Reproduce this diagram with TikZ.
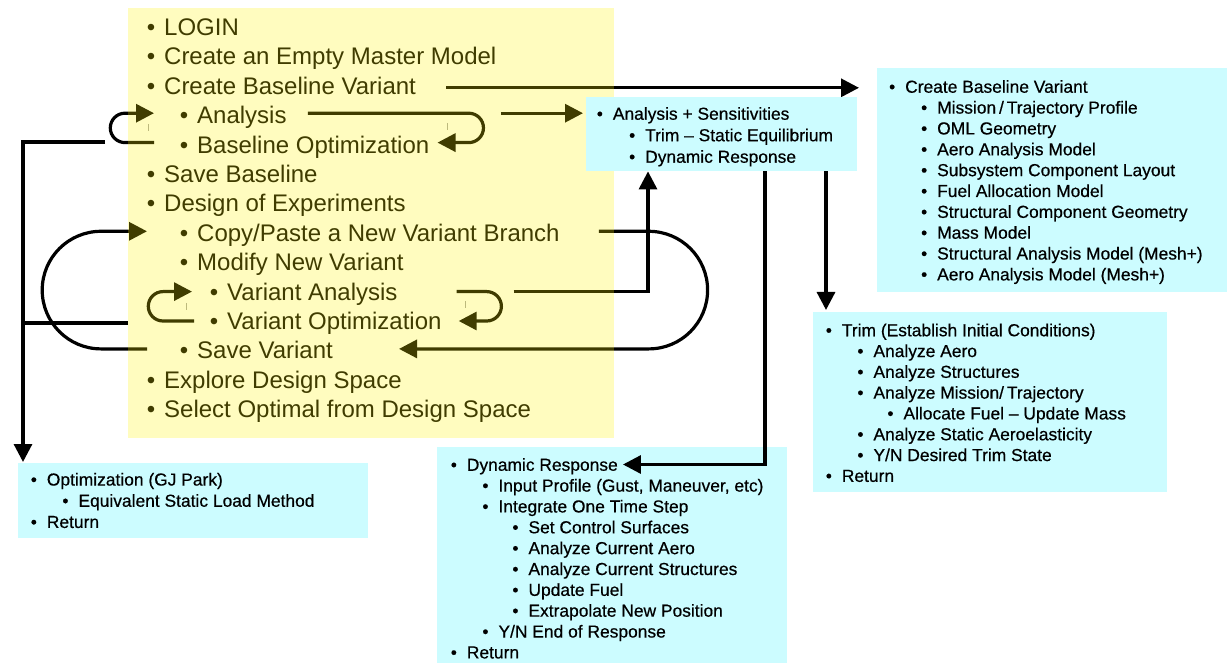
\documentclass[tikz,border=0pt]{standalone}
\usepackage{fontspec}
\setmainfont{Liberation Sans}
\newfontfamily\boxfamily[FakeBold=0.5,Ligatures=TeX]{Liberation Sans}
\usetikzlibrary{arrows.meta,calc}
\pgfdeclarelayer{tint}
\pgfdeclarelayer{front}
\pgfsetlayers{main,tint,front}
\definecolor{boxcyan}{RGB}{204,252,255}
\newcommand\yfont{\fontsize{24}{29}\selectfont}
\newcommand\cfont{\boxfamily\fontsize{17.4}{21}\selectfont}
\newcommand\bu[1]{\llap{\textbullet\hspace{#1}}}
\begin{document}
\begin{tikzpicture}[x=1pt,y=-1pt,
  yl/.style={anchor=west, inner sep=0pt, font=\yfont, text height=17pt, text depth=0pt},
  cl/.style={anchor=west, inner sep=0pt, font=\cfont, text height=12.5pt, text depth=0pt},
  cbox/.style={anchor=north west, fill=boxcyan, draw=none, inner sep=0pt},
  ln/.style={line width=3.2pt, draw=black},
  arr/.style={ln, -{Triangle[length=18pt,width=18pt]}},
  tickmark/.style={line width=1pt, draw=black!35}]
\useasboundingbox (0,0) rectangle (1227,663);

% ---- side boxes (below the workflow panel) ----
\node[cbox, minimum width=350pt, minimum height=224pt] (boxCBV) at (877,68) {};
\node[cl] (cb0) at (905,86.5)   {\bu{10pt}Create Baseline Variant};
\node[cl] (cb1) at (937,107.35) {\bu{10pt}Mission\,/\,Trajectory Profile};
\node[cl] (cb2) at (937,128.2)  {\bu{10pt}OML Geometry};
\node[cl] (cb3) at (937,149.05) {\bu{10pt}Aero Analysis Model};
\node[cl] (cb4) at (937,169.9)  {\bu{10pt}Subsystem Component Layout};
\node[cl] (cb5) at (937,190.75) {\bu{10pt}Fuel Allocation Model};
\node[cl] (cb6) at (937,211.6)  {\bu{10pt}Structural Component Geometry};
\node[cl] (cb7) at (937,232.45) {\bu{10pt}Mass Model};
\node[cl] (cb8) at (937,253.3)  {\bu{10pt}Structural Analysis Model (Mesh+)};
\node[cl] (cb9) at (937,274.15) {\bu{10pt}Aero Analysis Model (Mesh+)};

\node[cbox, minimum width=354pt, minimum height=180pt] (boxTrim) at (813,312) {};
\node[cl] (tr0) at (841.7,330)   {\bu{10pt}Trim (Establish Initial Conditions)};
\node[cl] (tr1) at (873.3,350.8) {\bu{10pt}Analyze Aero};
\node[cl] (tr2) at (873.3,371.6) {\bu{10pt}Analyze Structures};
\node[cl] (tr3) at (873.3,392.4) {\bu{10pt}Analyze Mission/\,Trajectory};
\node[cl] (tr4) at (903.3,413.2) {\bu{10pt}Allocate Fuel – Update Mass};
\node[cl] (tr5) at (873.3,434)   {\bu{10pt}Analyze Static Aeroelasticity};
\node[cl] (tr6) at (873.3,454.8) {\bu{10pt}Y/N Desired Trim State};
\node[cl] (tr7) at (841.7,475.6) {\bu{10pt}Return};

\node[cbox, minimum width=350pt, minimum height=216pt] (boxDyn) at (437,447) {};
\node[cl] (dy0) at (466.7,464.5)  {\bu{10pt}Dynamic Response};
\node[cl] (dy1) at (498.3,485.35) {\bu{10pt}Input Profile (Gust, Maneuver, etc)};
\node[cl] (dy2) at (498.3,506.2)  {\bu{10pt}Integrate One Time Step};
\node[cl] (dy3) at (528.3,527.05) {\bu{10pt}Set Control Surfaces};
\node[cl] (dy4) at (528.3,547.9)  {\bu{10pt}Analyze Current Aero};
\node[cl] (dy5) at (528.3,568.75) {\bu{10pt}Analyze Current Structures};
\node[cl] (dy6) at (528.3,589.6)  {\bu{10pt}Update Fuel};
\node[cl] (dy7) at (528.3,610.45) {\bu{10pt}Extrapolate New Position};
\node[cl] (dy8) at (498.3,631.3)  {\bu{10pt}Y/N End of Response};
\node[cl] (dy9) at (466.7,652.15) {\bu{10pt}Return};

\node[cbox, minimum width=350pt, minimum height=75pt] (boxOpt) at (18,463) {};
\node[cl] (op0) at (46.7,479.3) {\bu{10pt}Optimization (GJ Park)};
\node[cl] (op1) at (78.3,500.5) {\bu{10pt}Equivalent Static Load Method};
\node[cl] (op2) at (46.7,521.7) {\bu{10pt}Return};

% ---- analysis box, kept in front of the tinted panel ----
\begin{pgfonlayer}{front}
\node[cbox, minimum width=271pt, minimum height=74pt] (boxAS) at (586,97) {};
\node[cl] (as0) at (612.7,113.5) {\bu{10pt}Analysis + Sensitivities};
\node[cl] (as1) at (645,135)     {\bu{10pt}Trim – Static Equilibrium};
\node[cl] (as2) at (645,156.5)   {\bu{10pt}Dynamic Response};
\end{pgfonlayer}

% ---- workflow steps ----
\node[yl] (login)   at (164,27.0)  {\bu{9pt}LOGIN};
\node[yl] (empty)   at (164,56.4)  {\bu{9pt}Create an Empty Master Model};
\node[yl] (cbv)     at (164,85.8)  {\bu{9pt}Create Baseline Variant};
\node[yl] (ana)     at (197,115.2) {\bu{9pt}Analysis};
\node[yl] (bopt)    at (197,144.6) {\bu{9pt}Baseline Optimization};
\node[yl] (sbase)   at (164,174.0) {\bu{9pt}Save Baseline};
\node[yl] (doe)     at (164,203.4) {\bu{9pt}Design of Experiments};
\node[yl] (copy)    at (197,232.8) {\bu{9pt}Copy/Paste a New Variant Branch};
\node[yl] (modify)  at (197,262.2) {\bu{9pt}Modify New Variant};
\node[yl] (vana)    at (227,291.6) {\bu{9pt}Variant Analysis};
\node[yl] (vopt)    at (227,321.0) {\bu{9pt}Variant Optimization};
\node[yl] (svar)    at (197,350.4) {\bu{9pt}Save Variant};
\node[yl] (explore) at (164,379.8) {\bu{9pt}Explore Design Space};
\node[yl] (select)  at (164,409.2) {\bu{9pt}Select Optimal from Design Space};

% ---- connectors ----
\draw[arr] ($(cbv.east)+(30,2)$) -- ($(cbv.east -| boxCBV.west)+(-18,2)$);
\draw[arr] ($(ana.east)+(214,-2)$) -- ($(ana.east -| boxAS.west)+(-3,-2)$);

% baseline analysis / optimization loop
\draw[arr] ($(ana.east)+(21,-2)$) -- ($(ana.east)+(182,-2)$)
  arc[start angle=90, end angle=-90, radius=14.7pt] -- ($(bopt.east)+(8,-2)$);
\draw[arr] ($(bopt.west)+(-43,-2)$) -- ($(bopt.west)+(-72,-2)$)
  arc[start angle=270, end angle=90, radius=14.7pt] -- ($(ana.west)+(-43,-2)$);

% variant analysis / optimization loop
\draw[arr] ($(vana.east)+(59,0)$) -- ($(vana.east)+(89,0)$)
  arc[start angle=90, end angle=-90, radius=14.7pt] -- ($(vopt.east)+(17,0)$);
\draw[arr] ($(vopt.west)+(-33,0)$) -- ($(vopt.west)+(-64,0)$)
  arc[start angle=270, end angle=90, radius=14.7pt] -- ($(vana.west)+(-35,0)$);

% variant branch loop
\draw[arr] ($(copy.east)+(39,-1.5)$) -- ($(copy.east)+(89,-1.5)$)
  arc[start angle=90, end angle=-90, radius=58.8pt] -- ($(svar.east)+(66,-1.5)$);
\draw[arr] ($(svar.west)+(-50,-1.5)$) -- ($(svar.west)+(-96,-1.5)$)
  arc[start angle=270, end angle=90, radius=58.8pt] -- ($(copy.west)+(-50,-1.5)$);

% variant analysis up to the analysis box
\draw[arr] ($(vana.east)+(116,0)$) -| ($(boxAS.south west)+(62,0)$);

% analysis box down to trim and dynamic response
\coordinate (asD) at ($(boxAS.south west)+(179,0)$);
\coordinate (asT) at ($(boxAS.south west)+(240,0)$);
\draw[arr] (asD) |- ($(dy0.east)+(5,0)$);
\draw[arr] (asT) -- ($(asT |- boxTrim.north)+(0,-2)$);

% optimization branch on the left
\coordinate (optA) at ($(bopt.west)+(-92,-2.6)$);
\coordinate (optB) at ($(vopt.west)+(-99,2)$);
\draw[arr] (optA) -| ($(boxOpt.north west)+(5,-1)$);
\draw[ln] (optB) -- ($(optB -| boxOpt.north west)+(5,0)$);

% small marks inside the loops
\draw[tickmark] (148,124) -- (148,131);
\draw[tickmark] (447,123) -- (447,130);
\draw[tickmark] (186,303) -- (186,310);
\draw[tickmark] (465,301) -- (465,308);

% ---- tinted workflow panel ----
\begin{pgfonlayer}{tint}
\node[anchor=north west, inner sep=0pt, minimum width=486pt, minimum height=430pt,
  fill=yellow, fill opacity=0.25] (panel) at (128,8) {};
\end{pgfonlayer}
\end{tikzpicture}
\end{document}
